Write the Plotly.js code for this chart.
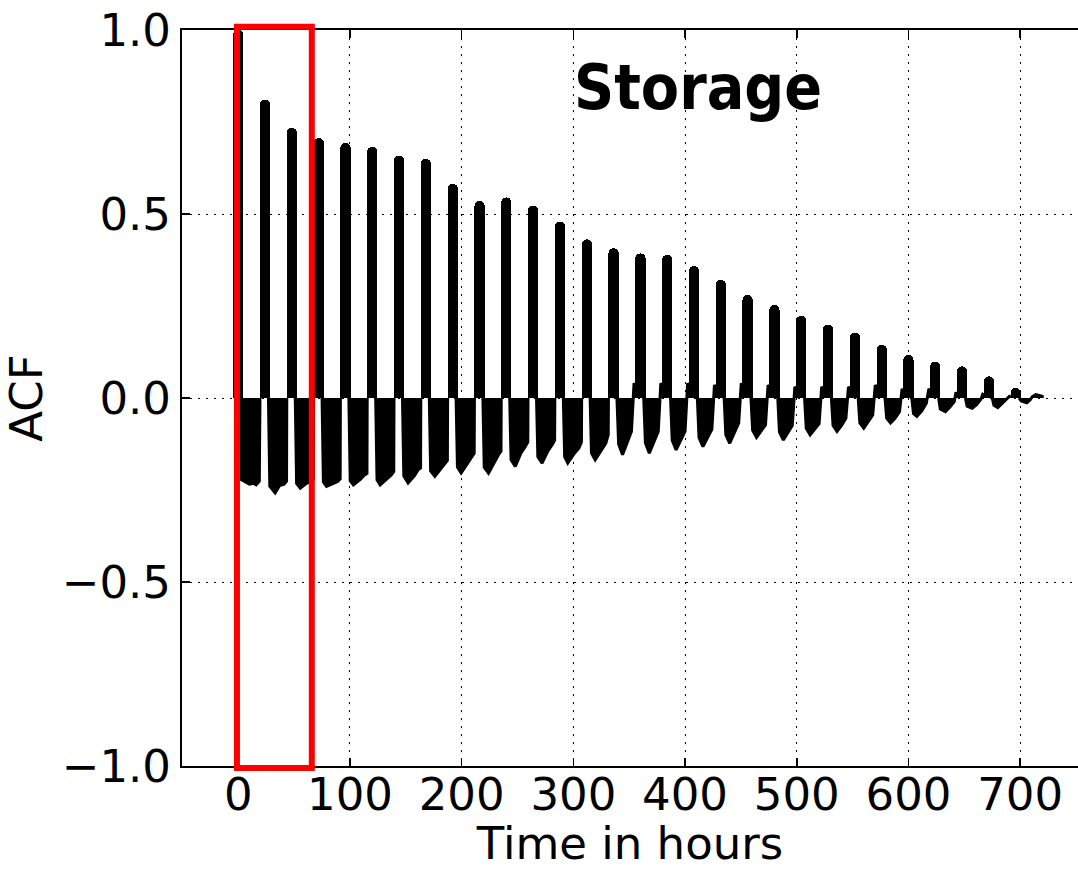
<!DOCTYPE html>
<html>
<head>
<meta charset="utf-8">
<script src="https://cdn.plot.ly/plotly-3.0.1.min.js"></script>
<style>
  html, body { margin: 0; padding: 0; background: #ffffff; }
  #chart { width: 1078px; height: 870px; }
</style>
</head>
<body>
<div id="chart"></div>
<script>
// ---- Data (ACF of hourly storage series) ----
// Daily autocorrelation peaks (lag in hours, ACF value)
const peakLag = [0, 24, 48, 72, 96, 120, 144, 168, 192, 216, 240, 264, 288, 312, 336,
                 360, 384, 408, 432, 456, 480, 504, 528, 552, 576, 600, 624, 648, 672, 696];
const peakVal = [1.0, 0.811, 0.734, 0.706, 0.694, 0.683, 0.659, 0.650, 0.582, 0.535, 0.545, 0.523, 0.479, 0.431, 0.407,
                 0.393, 0.389, 0.359, 0.321, 0.280, 0.253, 0.223, 0.199, 0.178, 0.145, 0.117, 0.099, 0.086, 0.059, 0.027];

// Negative lobes between the daily peaks: lag points and ACF values
const lobeLag = [
  [1.9, 2.8, 10, 14, 16, 18.8, 19.4],
  [27.0, 28.2, 33, 37, 41, 43.2, 43.4],
  [51.0, 52.2, 55.5, 61, 65, 67.2, 67.4],
  [75.0, 76.2, 79, 85, 89, 91.2, 91.4],
  [99.0, 100.2, 103, 109, 113, 115.2, 115.4],
  [123.0, 124.2, 127, 133, 137, 139.2, 139.4],
  [147.0, 148.2, 152, 158, 161, 163.2, 163.4],
  [171.0, 172.2, 176, 182, 185, 187.2, 187.4],
  [195.0, 196.2, 199.5, 205, 209, 211.2, 211.4],
  [219.0, 220.2, 224, 229, 233, 235.2, 235.4],
  [243.0, 244.2, 248, 253, 257, 259.2, 259.4],
  [267.0, 268.2, 272, 277, 281, 283.2, 283.4],
  [291.0, 292.2, 295, 301, 305, 307.2, 307.4],
  [315.0, 316.2, 319.5, 325, 329, 331.2, 331.4],
  [339.0, 340.5, 344, 348, 352, 354.3, 355.5],
  [363.0, 364.5, 368, 372, 376, 378.3, 379.5],
  [387.0, 388.5, 392, 396, 400, 402.3, 403.5],
  [411.0, 412.5, 416, 420, 424, 426.3, 427.5],
  [435.0, 436.5, 440, 444, 448, 450.3, 451.5],
  [459.0, 460.5, 464, 468, 472, 474.3, 475.5],
  [483.0, 484.5, 488, 492, 496, 498.3, 499.5],
  [507.0, 508.5, 512, 516, 520, 522.3, 523.5],
  [531.0, 532.5, 536, 540, 544, 546.3, 547.5],
  [555.0, 556.5, 560, 564, 568, 570.3, 571.5],
  [579.0, 580.5, 584, 588, 592, 594.3, 595.5],
  [603.0, 604.5, 607.5, 612, 616, 618.3, 619.5],
  [627.0, 628.5, 633, 637, 641, 642.5, 643.5],
  [651.0, 652.5, 657, 661, 665, 666.5, 667.5],
  [675.0, 676.5, 680, 684, 688, 690.5, 691.5],
  [699.0, 701, 706, 709, 711, 714, 718, 721]
];
const lobeVal = [
  [0, -0.222, -0.234, -0.232, -0.236, -0.226, 0],
  [0, -0.240, -0.258, -0.238, -0.234, -0.226, 0],
  [0, -0.232, -0.245, -0.232, -0.227, -0.222, 0],
  [0, -0.228, -0.240, -0.232, -0.227, -0.220, 0],
  [0, -0.225, -0.236, -0.222, -0.209, -0.205, 0],
  [0, -0.222, -0.236, -0.220, -0.209, -0.200, 0],
  [0, -0.212, -0.231, -0.210, -0.195, -0.190, 0],
  [0, -0.198, -0.213, -0.190, -0.177, -0.170, 0],
  [0, -0.188, -0.204, -0.180, -0.163, -0.150, 0],
  [0, -0.188, -0.204, -0.175, -0.154, -0.145, 0],
  [0, -0.168, -0.186, -0.150, -0.132, -0.120, 0],
  [0, -0.160, -0.177, -0.145, -0.127, -0.115, 0],
  [0, -0.160, -0.177, -0.150, -0.136, -0.120, 0],
  [0, -0.150, -0.168, -0.140, -0.123, -0.100, 0],
  [0, -0.125, -0.154, -0.125, -0.091, 0.040, 0.035],
  [0, -0.122, -0.150, -0.120, -0.091, 0.040, 0.035],
  [0, -0.115, -0.141, -0.115, -0.091, 0.040, 0.035],
  [0, -0.108, -0.132, -0.110, -0.085, 0.035, 0.030],
  [0, -0.100, -0.123, -0.095, -0.068, 0.040, 0.035],
  [0, -0.088, -0.107, -0.090, -0.073, 0.035, 0.030],
  [0, -0.093, -0.114, -0.095, -0.075, 0.030, 0.025],
  [0, -0.082, -0.100, -0.085, -0.070, 0.030, 0.025],
  [0, -0.075, -0.091, -0.075, -0.055, 0.030, 0.025],
  [0, -0.068, -0.082, -0.065, -0.046, 0.035, 0.030],
  [0, -0.055, -0.068, -0.055, -0.037, 0.025, 0.020],
  [0, -0.042, -0.050, -0.035, -0.014, 0.025, 0.020],
  [0, -0.030, -0.037, -0.025, -0.010, 0.015, 0.012],
  [0, -0.022, -0.028, -0.018, -0.003, 0.010, 0.008],
  [0, -0.020, -0.026, -0.015, -0.002, 0.005, 0.005],
  [0, -0.008, -0.013, -0.005, 0.004, 0.009, 0.006, 0.003]
];

const xTicks = [0, 100, 200, 300, 400, 500, 600, 700];
const yTicks = [-1.0, -0.5, 0.0, 0.5, 1.0];
const highlightLags = [-1.2, 65.8];   // red box around the first days

// ---- Build traces ----
const lobeX = [], lobeY = [];
lobeLag.forEach((seg, i) => {
  seg.forEach((v, j) => { lobeX.push(v); lobeY.push(lobeVal[i][j]); });
  lobeX.push(null); lobeY.push(null);
});

const spikes = {
  type: 'bar',
  x: peakLag,
  y: peakVal,
  width: 9.2,
  marker: { color: '#000000', cornerradius: 5, line: { width: 0 } },
  hoverinfo: 'skip',
  showlegend: false
};

const lobes = {
  type: 'scatter',
  mode: 'lines',
  x: lobeX,
  y: lobeY,
  connectgaps: false,
  line: { color: '#000000', width: 3 },
  fill: 'tozeroy',
  fillcolor: '#000000',
  hoverinfo: 'skip',
  showlegend: false
};

const FONT = 'DejaVu Sans, Liberation Sans, sans-serif';

const layout = {
  width: 1078,
  height: 870,
  margin: { l: 182, r: 0, t: 30, b: 104, pad: 0 },
  paper_bgcolor: '#ffffff',
  plot_bgcolor: '#ffffff',
  font: { family: FONT, size: 45, color: '#000000' },
  showlegend: false,
  bargap: 0,
  xaxis: {
    range: [-50.4, 751.8],
    tickvals: xTicks,
    ticktext: xTicks.map(String),
    ticks: 'inside',
    ticklen: 8,
    tickwidth: 1.5,
    tickcolor: '#000000',
    ticklabelstandoff: -12,
    showline: true,
    linecolor: '#000000',
    linewidth: 2,
    mirror: 'ticks',
    showgrid: true,
    gridcolor: '#000000',
    gridwidth: 1,
    griddash: '2px,6px',
    zeroline: false,
    tickfont: { family: FONT, size: 45, color: '#000000' },
    title: { text: 'Time in hours', font: { family: FONT, size: 45, color: '#000000' }, standoff: 4 },
    automargin: false,
    fixedrange: true
  },
  yaxis: {
    range: [-1, 1],
    tickvals: yTicks,
    tickformat: '.1f',
    ticks: 'inside',
    ticklen: 8,
    tickwidth: 1.5,
    tickcolor: '#000000',
    showline: true,
    linecolor: '#000000',
    linewidth: 2,
    mirror: false,
    showgrid: true,
    gridcolor: '#000000',
    gridwidth: 1,
    griddash: '2px,6px',
    zeroline: false,
    tickfont: { family: FONT, size: 45, color: '#000000' },
    title: { text: 'ACF', font: { family: FONT, size: 45, color: '#000000' }, standoff: 5 },
    automargin: false,
    fixedrange: true
  },
  annotations: [{
    text: '<b>Storage</b>',
    xref: 'x', yref: 'y',
    x: 412, y: 0.845,
    xanchor: 'center', yanchor: 'middle',
    showarrow: false,
    font: { family: 'DejaVu Sans Condensed, DejaVu Sans, sans-serif', size: 62, color: '#000000' }
  }],
  shapes: [{
    type: 'rect',
    xref: 'x', yref: 'paper',
    x0: highlightLags[0], x1: highlightLags[1],
    y0: -0.0027, y1: 1.0045,
    line: { color: '#ff0000', width: 6 },
    fillcolor: 'rgba(0,0,0,0)',
    layer: 'above'
  }]
};

Plotly.newPlot('chart', [spikes, lobes], layout, { staticPlot: true, displayModeBar: false });
</script>
</body>
</html>
